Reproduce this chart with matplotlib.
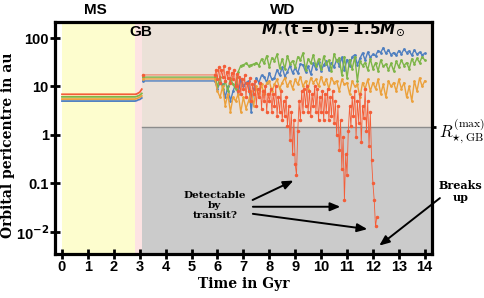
import numpy as np
import matplotlib
matplotlib.use('Agg')
import matplotlib.pyplot as plt

# phases (Gyr) and the GB radius (au)
t_ms_end = 2.82
t_gb_end = 3.1
r_gb = 1.45

# main sequence + giant branch: tracks before the jump
t_ms = [0.0, 2.82, 2.88, 2.94, 3.0, 3.08]
blue_ms = [5.0, 5.0, 5.1, 5.3, 5.4, 5.8]
orange_ms = [5.5, 5.5, 5.6, 5.8, 6.0, 6.4]
green_ms = [6.1, 6.1, 6.2, 6.4, 6.6, 7.2]
red_ms = [6.9, 6.9, 7.0, 7.3, 7.6, 8.8]

# white dwarf phase (first value is the flat post-GB orbit)
t_gb_start = 3.12
t_wd = np.round(np.arange(5.9, 14.01, 0.1), 2)
blue_wd = [13,
           9, 12, 11, 6, 10, 5, 8, 11, 7, 14,
           10, 12, 13, 3.0, 9, 15, 12, 17, 16, 12,
           19, 14, 15, 22, 17, 25, 16, 20, 27, 19,
           24, 19, 29, 28, 20, 26, 18, 30, 23, 32,
           21, 28, 33, 22, 31, 25, 36, 27, 40, 22,
           36, 26, 41, 45, 28, 38, 49, 35, 51, 40,
           46, 43, 55, 50, 63, 48, 57, 45, 50, 44,
           55, 47, 59, 50, 54, 44, 57, 46, 51, 45,
           48]
green_wd = [15.6,
            10, 16, 9, 13, 8, 15, 11, 9, 20, 27,
            28, 30, 27, 28, 29, 31, 27, 37, 30, 43,
            25, 39, 34, 46, 24, 37, 23, 43, 29, 34,
            25, 41, 35, 49, 22, 37, 30, 45, 26, 37,
            23, 42, 29, 35, 21, 47, 33, 39, 17, 41,
            15, 36, 23, 41, 13, 33, 27, 31, 22, 37,
            23, 31, 21, 35, 26, 29, 22, 30, 21, 33,
            25, 35, 27, 31, 23, 37, 29, 38, 31, 41,
            35]
orange_wd = [14.3,
             8, 6, 10, 4, 7, 3, 6, 5, 7, 3,
             6, 3.5, 5, 8, 4, 10, 6, 11, 7, 12,
             13, 8, 11, 14, 9, 12, 15, 10, 13, 9,
             14, 11, 16, 10, 13, 9, 15, 12, 14, 10,
             16, 11, 14, 9, 15, 12, 13, 8, 14, 11,
             12, 7, 13, 10, 11, 6, 12, 9, 14, 8,
             12, 9, 14, 7, 11, 6, 13, 10, 12, 8,
             14, 9, 12, 6, 10, 5, 13, 8, 15, 10,
             13]

# red planet sampled finer, until it breaks up
t_red = np.round(np.arange(5.9, 12.16, 0.05), 2)
red_wd = [17.3, 22,
          14, 25, 12, 22, 16, 26, 13, 20, 15, 24, 12, 19, 14, 22, 10, 18, 8, 16, 7, 14,
          9, 17, 6, 12, 8, 15, 5, 11, 7, 13, 4, 9, 6, 12, 3.5, 8, 5, 10, 3, 7,
          5, 9, 3, 7, 4, 10, 2.5, 6, 3, 8, 2, 5, 2.5, 6, 1.5, 4, 0.8, 3, 0.4, 2,
          0.25, 0.15, 1.2, 5, 2, 8, 3, 9, 4, 10, 3, 8, 2.5, 7, 4, 10, 3, 9, 2, 6,
          3, 8, 2, 7, 3, 9, 2, 6, 2.5, 8, 1.8, 5, 1.0, 4, 0.5, 2, 0.2, 0.9, 0.045, 0.4,
          0.15, 1.2, 4, 1.5, 6, 2.5, 8, 0.9, 5, 1.8, 7, 0.7, 4, 2.2, 9, 1.2, 5, 0.6, 3, 0.3,
          0.1, 0.045, 0.013, 0.02]

c_blue = '#4f7fc0'
c_green = '#7db548'
c_orange = '#eba13c'
c_red = '#f45d38'

xmin, xmax = -0.27, 14.28
ymin, ymax = 0.0035, 214

fig = plt.figure(figsize=(4.85, 2.98), dpi=100)
ax = fig.add_axes([0.1134, 0.1477, 0.7773, 0.7785])

# background regions
ax.axvspan(0, t_ms_end, color='#fdfdce', lw=0, zorder=0)
ax.axvspan(t_ms_end, t_gb_end, color='#fde3e3', lw=0, zorder=0)
ax.axvspan(t_gb_end, xmax, color='#ebe1d8', lw=0, zorder=0)
ax.fill_between([t_gb_end, xmax], ymin, r_gb, color='#cbcbcb', lw=0, zorder=0)
ax.plot([t_gb_end, xmax], [r_gb, r_gb], color='#8c8c8c', lw=1, zorder=1)

series = [(blue_ms, blue_wd, c_blue), (green_ms, green_wd, c_green),
          (orange_ms, orange_wd, c_orange)]
for ms, wd, c in series:
    ax.plot(t_ms, ms, color=c, lw=1.3, zorder=2)
    ax.plot(np.r_[t_gb_start, t_wd], np.r_[wd[0], wd], color=c, lw=1.0,
            marker='.', ms=2, zorder=2)
ax.plot(t_ms, red_ms, color=c_red, lw=1.3, zorder=3)
ax.plot(np.r_[t_gb_start, t_red], np.r_[red_wd[0], red_wd], color=c_red, lw=0.6,
        marker='.', ms=3, zorder=3)

ax.set_yscale('log')
ax.set_xlim(xmin, xmax)
ax.set_ylim(ymin, ymax)
ax.set_xticks(range(0, 15))
ax.set_yticks([0.01, 0.1, 1, 10, 100])
ax.set_yticklabels([r'10$^{\mathbf{-2}}$', '0.1', '1', '10', '100'])
ax.minorticks_off()
ax.tick_params(direction='inout', length=7, width=2, labelsize=10.5, pad=1)
for lab in ax.get_xticklabels() + ax.get_yticklabels():
    lab.set_fontfamily('Liberation Sans')
    lab.set_fontweight('bold')
for sp in ax.spines.values():
    sp.set_linewidth(2.3)

ax.set_xlabel('Time in Gyr', family='DejaVu Serif', weight='bold', fontsize=10, labelpad=2)
ax.set_ylabel('Orbital pericentre in au', family='DejaVu Serif', weight='bold',
              fontsize=10)
ax.yaxis.set_label_coords(-0.105, 0.47)

# right-hand marker for the GB radius
twin = ax.twinx()
twin.set_yscale('log')
twin.set_ylim(ymin, ymax)
twin.set_yticks([r_gb])
twin.set_yticklabels([r'$R_{\star,\rm GB}^{(\rm max)}$'])
twin.minorticks_off()
twin.tick_params(direction='out', length=3, width=2, labelsize=12, pad=2)
for lab in twin.get_yticklabels():
    lab.set_math_fontfamily('cm')
for sp in twin.spines.values():
    sp.set_visible(False)

# phase labels
fig.text(95 / 485, 1 - 10 / 298, 'MS', ha='center', va='center', fontsize=11,
         weight='bold', family='Liberation Sans')
fig.text(283 / 485, 1 - 10 / 298, 'WD', ha='center', va='center', fontsize=11,
         weight='bold', family='Liberation Sans')
ax.text(3.05, 130, 'GB', ha='center', va='center', fontsize=11, weight='bold',
        family='Liberation Sans', zorder=5)
ax.text(10.46, 150, r'$\mathbfit{M}_{\star}\mathbf{(t=0)=1.5}\mathbfit{M}_{\odot}$',
        ha='center', va='center', fontsize=11, zorder=5)

# annotations
txt_kw = dict(family='DejaVu Serif', weight='bold', ha='center', va='center')
arrow_kw = dict(arrowstyle='-|>,head_width=0.25,head_length=0.6', color='black', lw=1.4)
ax.text(5.9, 0.035, 'Detectable\nby\ntransit?', fontsize=7.5, linespacing=1.2, **txt_kw)
ax.annotate('', xy=(9.03, 0.121), xytext=(7.26, 0.043), arrowprops=arrow_kw)
ax.annotate('', xy=(10.85, 0.033), xytext=(7.26, 0.033), arrowprops=arrow_kw)
ax.annotate('', xy=(11.89, 0.0112), xytext=(7.26, 0.024), arrowprops=arrow_kw)
ax.text(15.37, 0.068, 'Breaks\nup', fontsize=8, linespacing=1.2, clip_on=False, **txt_kw)
ax.annotate('', xy=(12.16, 0.0048), xytext=(14.67, 0.054), arrowprops=arrow_kw,
            annotation_clip=False)

fig.savefig('out.png', dpi=100)
